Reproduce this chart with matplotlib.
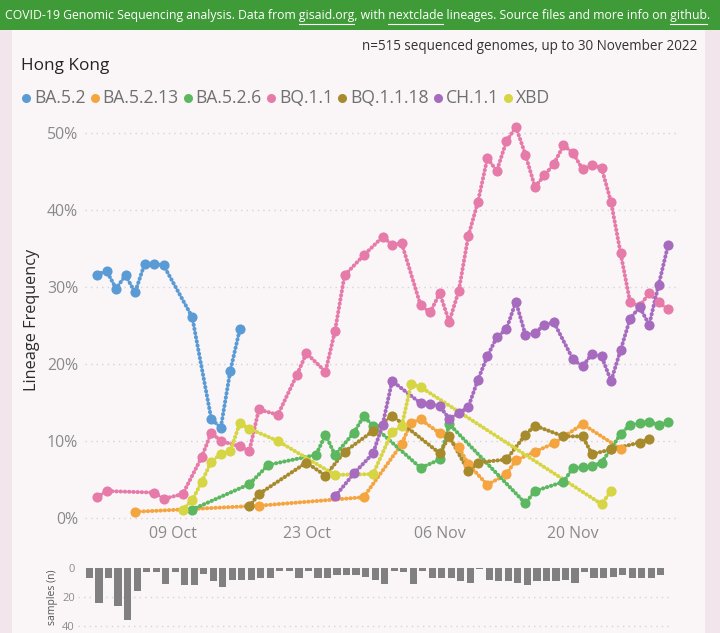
import matplotlib
matplotlib.use("Agg")
import matplotlib.pyplot as plt
from matplotlib.patches import Rectangle
from matplotlib.lines import Line2D

plt.rcParams['font.family'] = ['Open Sans', 'DejaVu Sans']

# ---------------- data (day 0 = 01 Oct 2022) ----------------
lineages = ["BA.5.2", "BA.5.2.13", "BA.5.2.6", "BQ.1.1", "BQ.1.1.18", "CH.1.1", "XBD"]
colors = ["#5a9bd5", "#f5a540", "#5cb860", "#e67aa9", "#a68a2c", "#a66bbe", "#d6d544"]

days_ba52 = [0, 1, 2, 3, 4, 5, 6, 7, 10, 12, 13, 14, 15]
freq_ba52 = [31.6, 32.1, 29.8, 31.5, 29.3, 33.0, 33.0, 32.8, 26.1, 12.9, 11.7, 19.1, 24.5]

days_ba5213 = [4, 17, 28, 32, 33, 34, 36, 38, 39, 41, 43, 44, 46, 48, 51, 55]
freq_ba5213 = [0.8, 1.6, 2.7, 9.6, 12.4, 12.8, 11.0, 9.2, 7.0, 4.3, 5.7, 7.5, 8.6, 9.7, 12.2, 9.0]

days_ba526 = [10, 16, 18, 23, 24, 25, 27, 28, 29, 34, 36, 37, 45, 46, 49, 50, 51, 52, 53, 54,
              55, 56, 57, 58, 59, 60]
freq_ba526 = [1.1, 4.4, 6.9, 8.2, 10.8, 8.2, 11.1, 13.2, 12.0, 6.5, 7.6, 12.2, 1.9, 3.5, 4.7, 6.5,
              6.6, 6.7, 7.2, 9.0, 10.9, 12.1, 12.3, 12.5, 12.1, 12.5]

days_bq11 = [0, 1, 6, 7, 9, 11, 12, 13, 15, 16, 17, 19, 21, 22, 24, 25, 26, 28, 30, 31, 32, 34,
             35, 36, 37, 38, 39, 40, 41, 42, 43, 44, 45, 46, 47, 48, 49, 50, 51, 52, 53, 54, 55,
             56, 57, 58, 59, 60]
freq_bq11 = [2.7, 3.5, 3.3, 2.5, 3.1, 7.9, 11.1, 10.0, 9.3, 8.7, 14.1, 13.4, 18.6, 21.4, 19.0,
             24.3, 31.5, 34.1, 36.5, 35.5, 35.7, 27.6, 26.7, 29.2, 25.5, 29.5, 36.6, 41.0, 46.7,
             45.1, 48.9, 50.8, 47.2, 43.0, 44.5, 46.0, 48.4, 47.4, 45.3, 45.8, 45.5, 41.0, 34.4,
             28.0, 27.5, 29.2, 28.0, 27.1]

days_bq1118 = [16, 17, 22, 24, 26, 29, 31, 36, 37, 39, 40, 43, 45, 46, 49, 51, 52, 54, 57, 58]
freq_bq1118 = [1.5, 3.1, 7.2, 5.5, 8.6, 11.3, 13.3, 8.4, 10.6, 6.1, 7.2, 7.6, 10.8, 12.0, 10.6,
               10.6, 8.3, 8.9, 9.8, 10.2]

days_ch11 = [25, 27, 29, 30, 31, 34, 35, 36, 37, 38, 39, 40, 41, 42, 43, 44, 45, 46, 47, 48, 50,
             51, 52, 53, 54, 55, 56, 57, 58, 59, 60]
freq_ch11 = [2.8, 5.8, 8.4, 12.1, 17.8, 14.9, 14.8, 14.5, 12.9, 13.6, 14.4, 17.9, 21.0, 23.5,
             24.5, 28.1, 23.8, 24.0, 25.1, 25.4, 20.6, 19.7, 21.3, 21.0, 17.8, 21.8, 25.9, 27.4,
             25.1, 30.3, 35.5]

days_xbd = [9, 10, 11, 12, 13, 14, 15, 16, 19, 25, 29, 31, 32, 33, 34, 53, 54]
freq_xbd = [1.1, 2.3, 4.7, 7.3, 8.3, 8.7, 12.3, 11.6, 10.0, 5.6, 5.7, 11.2, 11.9, 17.4, 17.0,
            1.8, 3.5]

series_days = [days_ba52, days_ba5213, days_ba526, days_bq11, days_bq1118, days_ch11, days_xbd]
series_freq = [freq_ba52, freq_ba5213, freq_ba526, freq_bq11, freq_bq1118, freq_ch11, freq_xbd]

sample_days = list(range(61))
samples = [7, 24, 7, 26, 36, 16, 3, 3, 11, 3, 12, 12, 4, 9, 13, 8, 8, 8, 7, 7,
           2, 2, 7, 2, 7, 7, 5, 5, 5, 6, 8, 11, 2, 3, 11, 2, 7, 7, 7, 9,
           10, 1, 8, 9, 9, 10, 12, 9, 9, 9, 8, 10, 3, 7, 7, 6, 5, 7, 7, 7, 5]

xtick_days = [8, 22, 36, 50]
xtick_labels = ["09 Oct", "23 Oct", "06 Nov", "20 Nov"]
ytick_vals = [0, 10, 20, 30, 40, 50]
ytick_labels = ["0%", "10%", "20%", "30%", "40%", "50%"]
bar_ticks = [0, 20, 40]

header_parts = ["COVID-19 Genomic Sequencing analysis. Data from ", "gisaid.org", ", with ",
                "nextclade", " lineages. Source files and more info on ", "github", "."]
header_links = [False, True, False, True, False, True, False]
subtitle = "n=515 sequenced genomes, up to 30 November 2022"
region = "Hong Kong"

# ---------------- figure ----------------
W, H = 720, 633
fig = plt.figure(figsize=(W / 100, H / 100), dpi=100)
fig.patch.set_facecolor("#f2e6ec")
renderer = fig.canvas.get_renderer()


def fx(x):
    return x / W


def fy(y):
    return 1 - y / H


def tw(s, size, **kw):
    t = fig.text(0, 0, s, fontsize=size, **kw)
    w = t.get_window_extent(renderer).width
    t.remove()
    return w


def fit(s, width, **kw):
    return 10 * width / tw(s, 10, **kw)


def adv(s, size):
    # advance width including trailing spaces
    return tw(s + "|", size) - tw("|", size)


# panel + header band (behind axes)
fig.patches.append(Rectangle((fx(12), 0), fx(705) - fx(12), fy(30), transform=fig.transFigure,
                             facecolor="#faf6f8", edgecolor="none", zorder=-10))
fig.patches.append(Rectangle((0, fy(30)), 1, 30 / H, transform=fig.transFigure,
                             facecolor="#3f9b37", edgecolor="none", zorder=-10))

# header text with underlined links
full = "".join(header_parts)
hsize = fit(full, 706)
x0 = 5
fig.text(fx(x0), fy(15), full, fontsize=hsize, color="white", va="center", ha="left")
acc = ""
for part, link in zip(header_parts, header_links):
    start = adv(acc, hsize)
    acc += part
    end = adv(acc, hsize)
    if link:
        fig.lines.append(Line2D([fx(x0 + start), fx(x0 + end)], [fy(23.5), fy(23.5)],
                                transform=fig.transFigure, color="white", lw=0.8))

fig.text(fx(697), fy(47), subtitle, fontsize=fit(subtitle, 336), color="#333333",
         ha="right", va="center")
fig.text(fx(21), fy(66), region, fontsize=fit(region, 88), color="#252423",
         ha="left", va="center")

# legend: sequential layout fitted to reference span (dot at 26 ... text end at 552)
dot_gap, item_gap = 8, 9


def legend_span(size):
    x = 26
    for i, lab in enumerate(lineages):
        x += dot_gap + tw(lab, size)
        if i < len(lineages) - 1:
            x += item_gap
    return x - 26


lsize = 12.0
for _ in range(3):
    lsize *= 526 / legend_span(lsize)
x = 26
for lab, c in zip(lineages, colors):
    fig.lines.append(Line2D([fx(x)], [fy(98)], transform=fig.transFigure, marker="o",
                            markersize=6.5, color=c, markeredgewidth=0))
    fig.text(fx(x + dot_gap), fy(98), lab, fontsize=lsize, color="#707070", ha="left",
             va="center")
    x += dot_gap + tw(lab, lsize) + item_gap

# ---------------- main axes ----------------
ax_l, ax_r, ax_t, ax_b = 85, 680, 120, 525
ax = fig.add_axes([fx(ax_l), fy(ax_b), (ax_r - ax_l) / W, (ax_b - ax_t) / H])
ax.set_facecolor("none")
ppd = 9.52
ppv = 7.7
ax.set_xlim((ax_l - 97) / ppd, (ax_r - 97) / ppd)
ax.set_ylim((518 - ax_b) / ppv, (518 - ax_t) / ppv)
for s in ax.spines.values():
    s.set_visible(False)
ax.set_yticks(ytick_vals)
ax.set_yticklabels(ytick_labels)
ax.set_xticks(xtick_days)
ax.set_xticklabels(xtick_labels)
tsize = fit("09 Oct", 48)
ax.tick_params(length=0, labelsize=tsize, labelcolor="#8a8a8a")
ax.tick_params(axis="y", pad=5)
ax.tick_params(axis="x", pad=1)
ax.yaxis.grid(True, color="#d4d4d4", linestyle=(0, (1, 3)), lw=1)
ax.set_axisbelow(True)

for d, v, c in zip(series_days, series_freq, colors):
    ax.plot(d, v, color=c, lw=2.9, linestyle=(0, (0.1, 0.95)), dash_capstyle="round",
            clip_on=False, zorder=2)
    ax.plot(d, v, "o", color=c, markersize=7.3, markeredgewidth=0, clip_on=False, zorder=3)

fig.text(fx(32), fy(320), "Lineage Frequency", rotation=90, ha="center", va="center",
         fontsize=fit("Lineage Frequency", 142), color="#2b2b2b")

# ---------------- samples bar axes ----------------
b_l = ax_l - 7.5
bx = fig.add_axes([fx(b_l), fy(633), (ax_r - ax_l) / W, (633 - 562) / H])
bx.set_facecolor("none")
bx.set_xlim((ax_l - 97) / ppd, (ax_r - 97) / ppd)
bpv = 1.45
bx.set_ylim((633 - 568) / bpv, (562 - 568) / bpv)
bx.bar(sample_days, samples, width=0.75, color="#808080", zorder=2)
for s in bx.spines.values():
    s.set_visible(False)
bx.set_xticks([])
bx.set_yticks(bar_ticks)
bx.tick_params(length=0, labelsize=8, labelcolor="#8c8c8c", pad=2)
for t in bar_ticks[1:]:
    bx.axhline(t, color="#d4d4d4", linestyle=(0, (1, 3)), lw=1, zorder=1)
fig.text(fx(53), fy(597), "samples (n)", rotation=90, ha="center", va="center",
         fontsize=7.5, color="#555555")

fig.savefig("out.png", dpi=100, facecolor=fig.get_facecolor())
